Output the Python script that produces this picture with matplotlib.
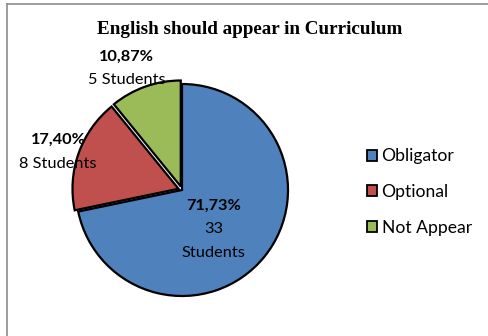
import numpy as np
import matplotlib
matplotlib.use("Agg")
from matplotlib import pyplot as plt
from matplotlib.lines import Line2D
from matplotlib.patches import Patch

categories = ["Obligator", "Optional", "Not Appear"]
students = [33, 8, 5]
percent_labels = ["71,73%", "17,40%", "10,87%"]
colors = ["#4F81BD", "#C0504D", "#9BBB59"]
title = "English should appear in Curriculum"

W, H = 488, 336
cx, cy, r = 182, 190, 106  # pie centre / radius in pixels (from top-left)

fig = plt.figure(figsize=(W / 100, H / 100), dpi=100)
ax = fig.add_axes([(cx - r) / W, (H - cy - r) / H, 2 * r / W, 2 * r / H])

wedges, _ = ax.pie(students, colors=colors, startangle=90, counterclock=False,
                   explode=[0.0, 0.035, 0.035], radius=1.0,
                   wedgeprops=dict(edgecolor="black", linewidth=1.6))
for w in wedges:
    w.set_clip_on(False)
ax.set_xlim(-1, 1)
ax.set_ylim(-1, 1)
ax.set_aspect("equal")
ax.axis("off")

lab_font = "Lato"
# label placement: (x, y) for percent line, in data units
label_pos = [(0.30, -0.15), (-1.17, 0.47), (-0.52, 1.26)]
line_gap = 0.22
for i, (x, y) in enumerate(label_pos):
    ax.text(x, y, percent_labels[i], ha="center", va="center",
            fontsize=11.8, fontweight="bold", family=lab_font)
    if i == 0:
        sub_lines = [str(students[i]), "Students"]
    else:
        sub_lines = [str(students[i]) + " Students"]
    for k, s in enumerate(sub_lines):
        ax.text(x, y - line_gap * (k + 1), s, ha="center", va="center",
                fontsize=11.8, family=lab_font)

fig.text(250 / W, 1 - 30 / H, title, ha="center", va="center",
         fontsize=13.8, fontweight="bold", family="Liberation Serif")

handles = [Patch(facecolor=c, edgecolor="black", linewidth=1.3) for c in colors]
fig.legend(handles, categories, loc="center left",
           bbox_to_anchor=(351 / W, 1 - 192 / H), frameon=False,
           prop={"family": lab_font, "size": 12.6}, handlelength=0.6,
           handleheight=0.6, handletextpad=0.25, labelspacing=1.12)

# chart border (left and top visible)
fig.add_artist(Line2D([7 / W, 7 / W], [0, 1 - 4 / H], color="#8c8c8c", lw=1.2))
fig.add_artist(Line2D([7 / W, 1], [1 - 4 / H, 1 - 4 / H], color="#8c8c8c", lw=1.2))

fig.savefig("out.png", dpi=100)
